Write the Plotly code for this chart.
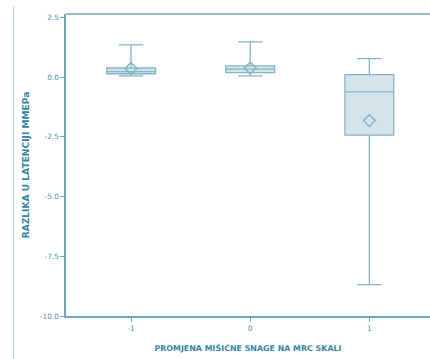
import plotly.graph_objects as go

groups = [-1, 0, 1]
q1 = [0.14, 0.19, -2.43]
median = [0.23, 0.33, -0.62]
q3 = [0.38, 0.47, 0.10]
lower = [0.05, 0.05, -8.69]
upper = [1.35, 1.47, 0.77]
means = [0.36, 0.38, -1.82]

x_ticks = [-1, 0, 1]
y_ticks = [2.5, 0.0, -2.5, -5.0, -7.5, -10.0]
y_tick_text = ["2.5", "0.0", "-2.5", "-5.0", "-7.5", "-10.0"]

axis_col = "#6ea5b9"
text_col = "#4f90aa"
title_col = "#3585a2"
box_line = "#82b5c5"
box_fill = "#d4e4ea"

W, H = 430, 359
ML, MT, MB = 65.5, 14.3, 43
PW, PH = W - ML, H - MT - MB

fig = go.Figure()
fig.add_trace(go.Box(
    x=groups, q1=q1, median=median, q3=q3, lowerfence=lower, upperfence=upper,
    width=0.41, whiskerwidth=0.5,
    fillcolor=box_fill, line=dict(color=box_line, width=1.3),
    boxpoints=False, showlegend=False, hoverinfo="skip",
))
fig.add_trace(go.Scatter(
    x=groups, y=means, mode="markers",
    marker=dict(symbol="diamond-open", size=9, color=box_line, line=dict(width=1.5, color=box_line)),
    showlegend=False, hoverinfo="skip",
))

# left decorative border line of the page
fig.add_shape(type="line", xref="paper", yref="paper",
              x0=(13 - ML) / PW, x1=(13 - ML) / PW,
              y0=-(H - (H - MB)) / PH, y1=(H - MB - 7) / PH,
              line=dict(color="#a9d0dd", width=1))
# top frame line
fig.add_shape(type="line", xref="paper", yref="paper", x0=0, x1=1.05, y0=1, y1=1,
              line=dict(color=axis_col, width=1.5))

fig.update_layout(
    width=W, height=H,
    margin=dict(l=ML, r=0, t=MT, b=MB),
    paper_bgcolor="white", plot_bgcolor="white",
    font=dict(family="DejaVu Sans", size=7, color=text_col),
    xaxis=dict(
        range=[-1.546, 1.509], tickmode="array", tickvals=x_ticks,
        ticktext=[str(v) for v in x_ticks],
        showgrid=False, zeroline=False, showline=True, linecolor=axis_col, linewidth=1.5,
        ticks="outside", ticklen=4, tickcolor=axis_col,
        tickfont=dict(size=7.3, color=text_col),
        title=dict(text="<b>PROMJENA MIŠIĆNE SNAGE NA MRC SKALI</b>",
                   font=dict(size=7.9, color=title_col, family="DejaVu Sans"), standoff=14),
    ),
    yaxis=dict(
        range=[-10, 2.64], tickmode="array", tickvals=y_ticks, ticktext=y_tick_text,
        showgrid=False, zeroline=False, showline=True, linecolor=axis_col, linewidth=1.5,
        ticks="outside", ticklen=4, tickcolor=axis_col,
        tickfont=dict(size=7.3, color=text_col),
        title=dict(text="<b>RAZLIKA U LATENCIJI MMEPa</b>",
                   font=dict(size=9.1, color=title_col, family="DejaVu Sans"), standoff=9),
    ),
)

fig.write_html("out.html", config={"displayModeBar": False},
               post_script="document.body.style.margin='0';document.body.style.overflow='hidden';")
